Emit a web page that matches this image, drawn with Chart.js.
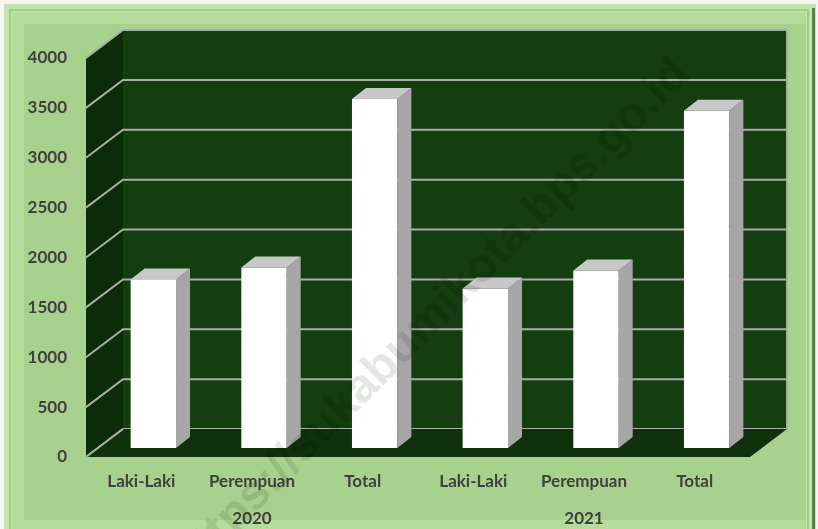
<!DOCTYPE html>
<html>
<head>
<meta charset="utf-8">
<script src="https://cdn.jsdelivr.net/npm/chart.js@4.4.0/dist/chart.umd.min.js"></script>
<style>
  html, body { margin: 0; padding: 0; background: #f4f6f2; }
  #wrap { width: 818px; height: 529px; position: relative; }
</style>
</head>
<body>
<div id="wrap"><canvas id="popChart" width="818" height="529"></canvas></div>
<script>
// Data
const categories = ["Laki-Laki", "Perempuan", "Total", "Laki-Laki", "Perempuan", "Total"];
const years = ["2020", "2021"];
const values = [1690, 1810, 3500, 1600, 1780, 3380];
const yMax = 4000;
const yStep = 500;

const colors = {
  frameOuter: "#c3e5ab",
  frameLine: "#9fcb86",
  frameInner: "#a9d18e",
  frameDark: "#58804a",
  backWall: "#143d10",
  sideWall: "#0c2c09",
  floor: "#0f320c",
  grid: "#a8aea6",
  barFront: "#ffffff",
  barSide: "#a6a6a6",
  barTop: "#c8c8c8",
  text: "#404040",
};

// depth of the plot box and of the bars (3D projection offsets)
const WALL_DX = 37, WALL_DY = -28;
const BAR_SHIFT_X = 12, BAR_SHIFT_Y = -9;
const BAR_DX = 14, BAR_DY = -11;

function poly(ctx, pts, fill) {
  ctx.beginPath();
  ctx.moveTo(pts[0][0], pts[0][1]);
  for (let i = 1; i < pts.length; i++) ctx.lineTo(pts[i][0], pts[i][1]);
  ctx.closePath();
  ctx.fillStyle = fill;
  ctx.fill();
}

// Bevelled light green frame behind everything
const framePlugin = {
  id: "frame",
  beforeDraw(chart) {
    const ctx = chart.ctx;
    const w = chart.width, h = chart.height;
    ctx.save();
    ctx.fillStyle = "#f4f6f2";
    ctx.fillRect(0, 0, w, h);
    ctx.fillStyle = colors.frameOuter;
    ctx.fillRect(4, 4, w - 6, h);
    ctx.strokeStyle = colors.frameLine;
    ctx.lineWidth = 2;
    ctx.strokeRect(10, 10, w - 20, h + 10);
    ctx.fillStyle = "#b6dc9c";
    ctx.fillRect(12, 12, w - 24, h);
    ctx.fillStyle = colors.frameInner;
    ctx.fillRect(24, 24, w - 36, h - 33);
    ctx.fillStyle = colors.frameDark;
    ctx.fillRect(w - 6, 8, 3, h);
    ctx.restore();
  },
};

// Walls, floor and gridlines of the 3D box, then bars shifted into depth
const box3dPlugin = {
  id: "box3d",
  beforeDatasetsDraw(chart) {
    const ctx = chart.ctx;
    const { left, right } = chart.chartArea;
    const y = chart.scales.y;
    const yTop = y.getPixelForValue(yMax);
    const y0 = y.getPixelForValue(0);

    ctx.save();
    // back wall
    poly(ctx, [
      [left + WALL_DX, yTop + WALL_DY], [right + WALL_DX, yTop + WALL_DY],
      [right + WALL_DX, y0 + WALL_DY], [left + WALL_DX, y0 + WALL_DY],
    ], colors.backWall);
    // left side wall
    poly(ctx, [
      [left, yTop], [left + WALL_DX, yTop + WALL_DY],
      [left + WALL_DX, y0 + WALL_DY], [left, y0],
    ], colors.sideWall);

    // gridlines on side and back wall
    ctx.strokeStyle = colors.grid;
    ctx.lineWidth = 2;
    for (let v = 0; v <= yMax; v += yStep) {
      const py = y.getPixelForValue(v);
      ctx.beginPath();
      ctx.moveTo(left, py);
      ctx.lineTo(left + WALL_DX, py + WALL_DY);
      ctx.lineTo(right + WALL_DX, py + WALL_DY);
      ctx.stroke();
    }
    // right edge of back wall
    ctx.beginPath();
    ctx.moveTo(right + WALL_DX, yTop + WALL_DY);
    ctx.lineTo(right + WALL_DX, y0 + WALL_DY);
    ctx.stroke();

    // floor
    poly(ctx, [
      [left, y0], [right, y0],
      [right + WALL_DX, y0 + WALL_DY], [left + WALL_DX, y0 + WALL_DY],
    ], colors.floor);
    ctx.beginPath();
    ctx.moveTo(left, y0);
    ctx.lineTo(left + WALL_DX, y0 + WALL_DY);
    ctx.stroke();

    // bars are drawn by the library inside this shifted frame
    ctx.translate(BAR_SHIFT_X, BAR_SHIFT_Y);
  },
  afterDatasetsDraw(chart) {
    const ctx = chart.ctx;
    const meta = chart.getDatasetMeta(0);
    meta.data.forEach((bar) => {
      const { x, y, base, width } = bar.getProps(["x", "y", "base", "width"], true);
      const l = x - width / 2, r = x + width / 2;
      poly(ctx, [[r, y], [r + BAR_DX, y + BAR_DY], [r + BAR_DX, base + BAR_DY], [r, base]], colors.barSide);
      poly(ctx, [[l, y], [l + BAR_DX, y + BAR_DY], [r + BAR_DX, y + BAR_DY], [r, y]], colors.barTop);
    });
    ctx.restore();
  },
};

// Faint diagonal watermark
const watermarkPlugin = {
  id: "watermark",
  afterDraw(chart) {
    const ctx = chart.ctx;
    ctx.save();
    ctx.translate(432, 318);
    ctx.rotate(-Math.PI / 4);
    ctx.font = "bold 48px 'Liberation Sans', Arial, sans-serif";
    ctx.fillStyle = "rgba(0, 0, 0, 0.1)";
    ctx.textAlign = "center";
    ctx.textBaseline = "middle";
    ctx.fillText("https://sukabumikota.bps.go.id", 0, 0);
    ctx.restore();
  },
};

const labelFont = { family: "Lato, 'Open Sans', sans-serif", size: 17, weight: "bold" };

new Chart(document.getElementById("popChart"), {
  type: "bar",
  data: {
    labels: categories,
    datasets: [
      {
        data: values,
        backgroundColor: colors.barFront,
        borderWidth: 0,
        categoryPercentage: 1,
        barPercentage: 0.41,
      },
    ],
  },
  options: {
    responsive: false,
    animation: false,
    events: [],
    layout: { padding: { left: 0, top: 58, right: 68, bottom: 0 } },
    plugins: {
      legend: { display: false },
      tooltip: { enabled: false },
    },
    scales: {
      y: {
        min: 0,
        max: yMax,
        ticks: {
          stepSize: yStep,
          padding: 19,
          color: colors.text,
          font: labelFont,
          callback: (value) => String(value),
        },
        grid: { display: false, drawTicks: false },
        border: { display: false },
        afterFit(scale) { scale.width = 86; },
      },
      x: {
        weight: 0,
        ticks: { padding: 14, color: colors.text, font: labelFont, maxRotation: 0, autoSkip: false },
        grid: { display: false, drawTicks: false },
        border: { display: false },
        afterFit(scale) { scale.height = 44; },
      },
      x2: {
        type: "category",
        position: "bottom",
        weight: 1,
        labels: years,
        offset: true,
        ticks: { padding: 7, color: colors.text, font: labelFont, maxRotation: 0 },
        grid: { display: false, drawTicks: false },
        border: { display: false },
        afterFit(scale) { scale.height = 28; },
      },
    },
  },
  plugins: [framePlugin, box3dPlugin, watermarkPlugin],
});
</script>
</body>
</html>
